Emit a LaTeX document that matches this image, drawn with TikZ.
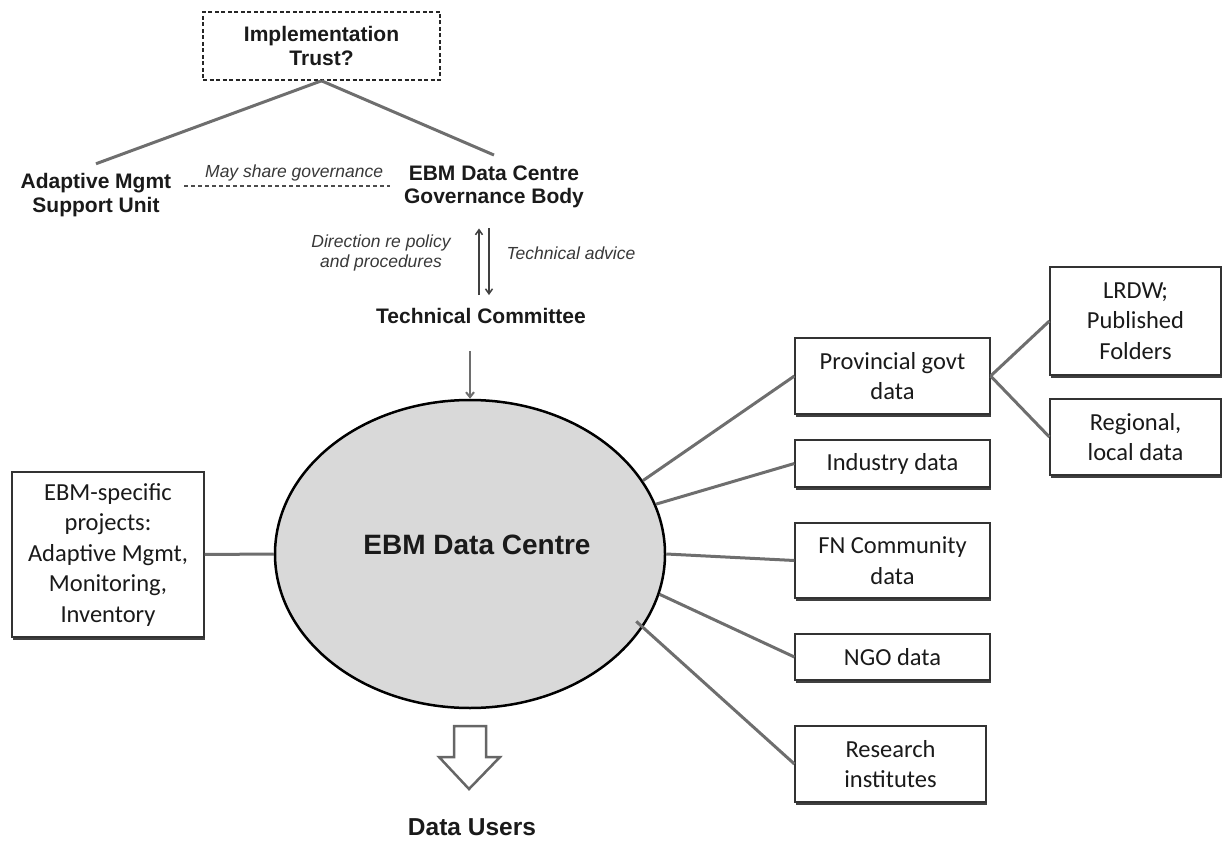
\documentclass[tikz,border=0pt]{standalone}
\usepackage{fontspec}
\setmainfont{Liberation Sans}
\newfontfamily\carl{Carlito}
\usetikzlibrary{shapes.geometric,shadows,arrows.meta}
\definecolor{connc}{HTML}{6E6E6E}
\definecolor{ebmfill}{HTML}{D9D9D9}
\definecolor{txt}{HTML}{1A1A1A}
\begin{document}
\begin{tikzpicture}[x=1pt,y=-1pt,
  hd/.style={font=\fontsize{21}{23.5}\selectfont\bfseries, text=txt, align=center, inner sep=0pt},
  it/.style={font=\fontsize{17.5}{20}\selectfont\itshape, text=black!78, align=center, inner sep=0pt},
  dbox/.style={draw=black!85, line width=1.6pt, dash pattern=on 4pt off 2.5pt, hd},
  rbox/.style={draw=black!80, line width=1.2pt, fill=white, text=txt,
    font=\carl\fontsize{24.5}{30.5}\selectfont, align=center, inner sep=0pt,
    drop shadow={shadow xshift=1pt, shadow yshift=-2.5pt, fill=black!75, opacity=1}},
  conn/.style={draw=connc, line width=3pt},
  tw/.style={draw=black!75, line width=1.5pt, -{Straight Barb[length=5pt,width=7pt]}},
  hollow/.style={draw=black!60, line width=2.5pt, fill=white, line join=miter}
]
\useasboundingbox (0,0) rectangle (1223,842);

% top part
\node[dbox, minimum width=237, minimum height=68] (impl) at (321.5,46) {Implementation\\Trust?};
\node[hd] (ams) at (96,195) {Adaptive Mgmt\\Support Unit};
\node[hd] (gov) at (494,187) {EBM Data Centre\\Governance Body};
\node[hd] (tc) at (481,316) {Technical Committee};
\node[it] (dir) at (381,253) {Direction re policy\\and procedures};
\node[it] (adv) at (571,253) {Technical advice};

\draw[conn] (impl.south) -- ([yshift=9.5pt]ams.north);
\draw[conn] (impl.south) -- ([yshift=10.5pt]gov.north);
\draw[draw=black!70, line width=1.2pt, dash pattern=on 4pt off 3pt, shorten >=14pt]
  ([xshift=13pt,yshift=9pt]ams.east) -- ([yshift=9pt]ams.east -| gov.west)
  node[it, midway, above=4pt] (msg) {May share governance};

\coordinate (xu) at (479,0);
\coordinate (xd) at (489,0);
\draw[tw] ([yshift=13pt]tc.north -| xu) -- ([yshift=-20pt]gov.south -| xu);
\draw[tw] ([yshift=-20pt]gov.south -| xd) -- ([yshift=13pt]tc.north -| xd);

% centre
\node[ellipse, draw=black, line width=2.5pt, fill=ebmfill, minimum width=390, minimum height=308, inner sep=0pt] (ebm) at (470,554) {};
\node[font=\fontsize{28}{30}\selectfont\bfseries, text=txt, inner sep=0pt] (ebmt) at (477,545) {EBM Data Centre};
\draw[draw=connc, line width=2pt, -{Straight Barb[length=5pt,width=8pt]}] ([yshift=-27pt]tc.south -| ebm.north) -- (ebm.north);

% left box
\node[rbox, minimum width=192, minimum height=165] (proj) at (108,554.5) {EBM-specific\\projects:\\Adaptive Mgmt,\\Monitoring,\\Inventory};
\draw[conn] (proj.east) -- (ebm.west);

% right boxes
\node[rbox, minimum width=195, minimum height=76] (prov) at (892.5,376) {Provincial govt\\data};
\node[rbox, minimum width=195, minimum height=47] (ind) at (892.5,463.5) {Industry data};
\node[rbox, minimum width=195, minimum height=75] (fn) at (892.5,560.5) {FN Community\\data};
\node[rbox, minimum width=195, minimum height=46] (ngo) at (892.5,657) {NGO data};
\node[rbox, minimum width=191, minimum height=76] (res) at (890.5,764) {Research\\institutes};
\node[rbox, minimum width=171, minimum height=108] (lrdw) at (1135.5,321) {LRDW;\\Published\\Folders};
\node[rbox, minimum width=171, minimum height=76] (reg) at (1135.5,437) {Regional,\\local data};

\draw[conn] (ebm.23) -- (prov.west);
\draw[conn] (ebm.15.5) -- (ind.west);
\draw[conn] (ebm.0) -- (fn.west);
\draw[conn] (ebm.-12) -- (ngo.west);
\draw[conn, shorten <=-9pt] (ebm.-23.5) -- (res.west);
\draw[conn] (prov.east) -- (lrdw.west);
\draw[conn] (prov.east) -- (reg.west);

% output arrow
\draw[hollow] (454,726) -- (486,726) -- (486,757) -- (500,757) -- (469,789) -- (439,757) -- (454,757) -- cycle;
\node[font=\fontsize{24.5}{26}\selectfont\bfseries, text=txt, inner sep=0pt] (du) at (472,827) {Data Users};
\end{tikzpicture}
\end{document}
